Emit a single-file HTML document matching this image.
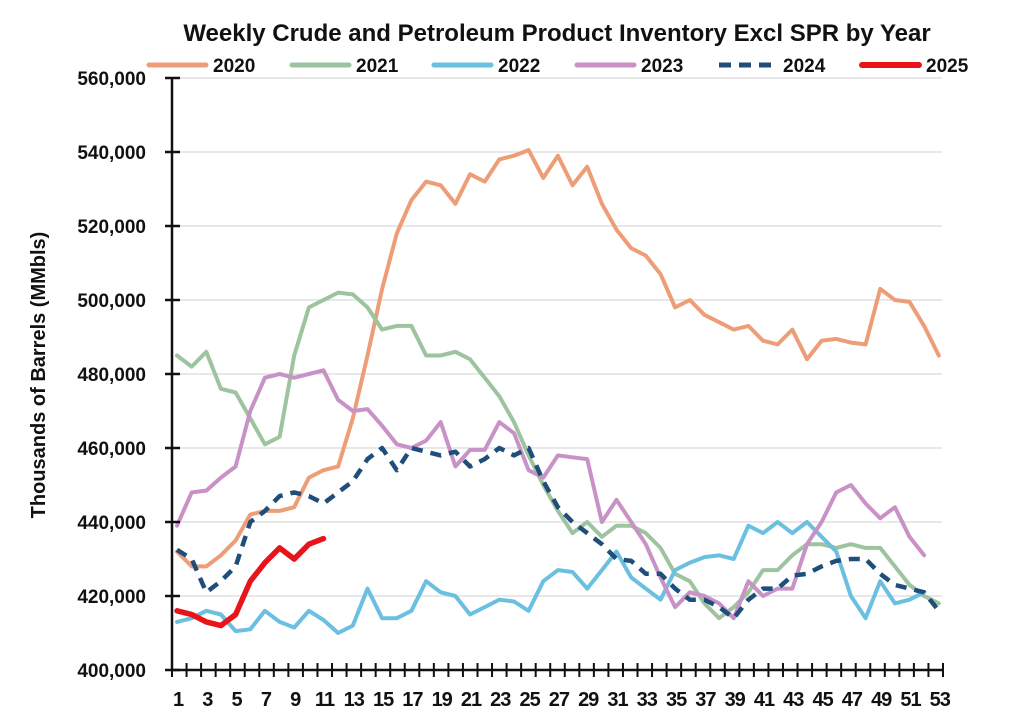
<!DOCTYPE html>
<html><head><meta charset="utf-8"><style>
html,body{margin:0;padding:0;background:#fff;}
svg{display:block;font-family:"Liberation Sans",sans-serif;}
</style></head><body>
<svg id="c" width="1024" height="727" viewBox="0 0 1024 727" xmlns="http://www.w3.org/2000/svg">
<rect width="1024" height="727" fill="#fff"/>
<text x="557" y="41" text-anchor="middle" font-size="24" font-weight="bold" fill="#111">Weekly Crude and Petroleum Product Inventory Excl SPR by Year</text>
<g id="grid"></g>
<g id="series" fill="none" stroke-linejoin="round" stroke-linecap="round"></g>
<g id="axes"></g>
<g font-size="19" font-weight="bold" fill="#111">
<line x1="149" y1="65" x2="206" y2="65" stroke="#ED9E78" stroke-width="5" stroke-linecap="round"/><text x="213" y="72">2020</text>
<line x1="292" y1="65" x2="349" y2="65" stroke="#9DC39F" stroke-width="5" stroke-linecap="round"/><text x="356" y="72">2021</text>
<line x1="434" y1="65" x2="491" y2="65" stroke="#6BBFE0" stroke-width="5" stroke-linecap="round"/><text x="498" y="72">2022</text>
<line x1="577" y1="65" x2="634" y2="65" stroke="#C992C6" stroke-width="5" stroke-linecap="round"/><text x="641" y="72">2023</text>
<line x1="719" y1="65" x2="776" y2="65" stroke="#1F4E7A" stroke-width="5" stroke-dasharray="12,8"/><text x="783" y="72">2024</text>
<line x1="862" y1="65" x2="919" y2="65" stroke="#E8141A" stroke-width="6" stroke-linecap="round"/><text x="926" y="72">2025</text>
</g>
<text transform="translate(45,375) rotate(-90)" text-anchor="middle" font-size="20" font-weight="bold" fill="#111">Thousands of Barrels (MMbls)</text>
</svg>
<script>
var NS="http://www.w3.org/2000/svg";
function el(p,t,a,txt){var e=document.createElementNS(NS,t);for(var k in a)e.setAttribute(k,a[k]);if(txt!=null)e.textContent=txt;document.getElementById(p).appendChild(e);return e;}
function X(w){return 177+(w-1)*14.65;}
function Y(v){return 670-(v-400)*74/20;}
for(var v=400;v<=560;v+=20){
 var y=Y(v);
 if(v>400) el("grid","line",{x1:172,x2:942,y1:y,y2:y,stroke:"#d9d9d9","stroke-width":1.3});
 el("axes","line",{x1:165,x2:180,y1:y,y2:y,stroke:"#111","stroke-width":2.5});
 el("axes","text",{x:146,y:y+7,"text-anchor":"end","font-size":19,"font-weight":"bold",fill:"#111"},(v).toString()+",000");
}
el("axes","line",{x1:172,x2:172,y1:Y(560),y2:670,stroke:"#111","stroke-width":2.5});
el("axes","line",{x1:172,x2:943,y1:670,y2:670,stroke:"#111","stroke-width":2.5});
for(var i=0;i<=53;i++){var x=172+i*(943-172)/53;el("axes","line",{x1:x,x2:x,y1:663,y2:677,stroke:"#111","stroke-width":2});}
for(var w=1;w<=53;w+=2){el("axes","text",{x:X(w)+1,y:706,"text-anchor":"middle","font-size":20,"font-weight":"bold",fill:"#111","letter-spacing":"-1"},w);}
var S=[
["#ED9E78",4,null,[432,428,428,431,435,442,443,443,444,452,454,455,468,485,503,518,527,532,531,526,534,532,538,539,540.5,533,539,531,536,526,519,514,512,507,498,500,496,494,492,493,489,488,492,484,489,489.5,488.5,488,503,500,499.5,493,485]],
["#9DC39F",4,null,[485,482,486,476,475,468,461,463,485,498,500,502,501.5,498,492,493,493,485,485,486,484,479,474,467,458,450,443,437,440,436,439,439,437,433,426,424,418,414,417,421,427,427,431,434,434,433,434,433,433,428,423,420,418]],
["#6BBFE0",4,null,[413,414,416,415,410.5,411,416,413,411.5,416,413.5,410,412,422,414,414,416,424,421,420,415,417,419,418.5,416,424,427,426.5,422,427,432,425,422,419,427,429,430.5,431,430,439,437,440,437,440,436,432,420,414,424,418,419,421]],
["#C992C6",4,null,[439,448,448.5,452,455,470,479,480,479,480,481,473,470,470.5,466,461,460,462,467,455,459.5,459.5,467,464,454,452,458,457.5,457,440,446,440,434,425,417,421,420,418,414,424,420,422,422,434,440,448,450,445,441,444,436,431]],
["#1F4E7A",4.5,"11,8",[432.5,430,421,424,428,440,443,447,448,447,445,448,451,457,460,454,460,459,458,459,455,457,460,458,460,451,444,440,437,434,430,429.5,426,426,422,419,419,417,414,419,422,422,425.5,426,428,429.5,430,430,426,423,422,421,416]],
["#E8141A",5.5,null,[416,415,413,412,415,424,429,433,430,434,435.5]]];
S.forEach(function(s){var pts=s[3].map(function(v,i){return X(i+1).toFixed(1)+","+Y(v).toFixed(1);}).join(" ");
var a={points:pts,stroke:s[0],"stroke-width":s[1]};if(s[2]){a["stroke-dasharray"]=s[2];a["stroke-linecap"]="butt";}el("series","polyline",a);});
</script>
</body></html>
